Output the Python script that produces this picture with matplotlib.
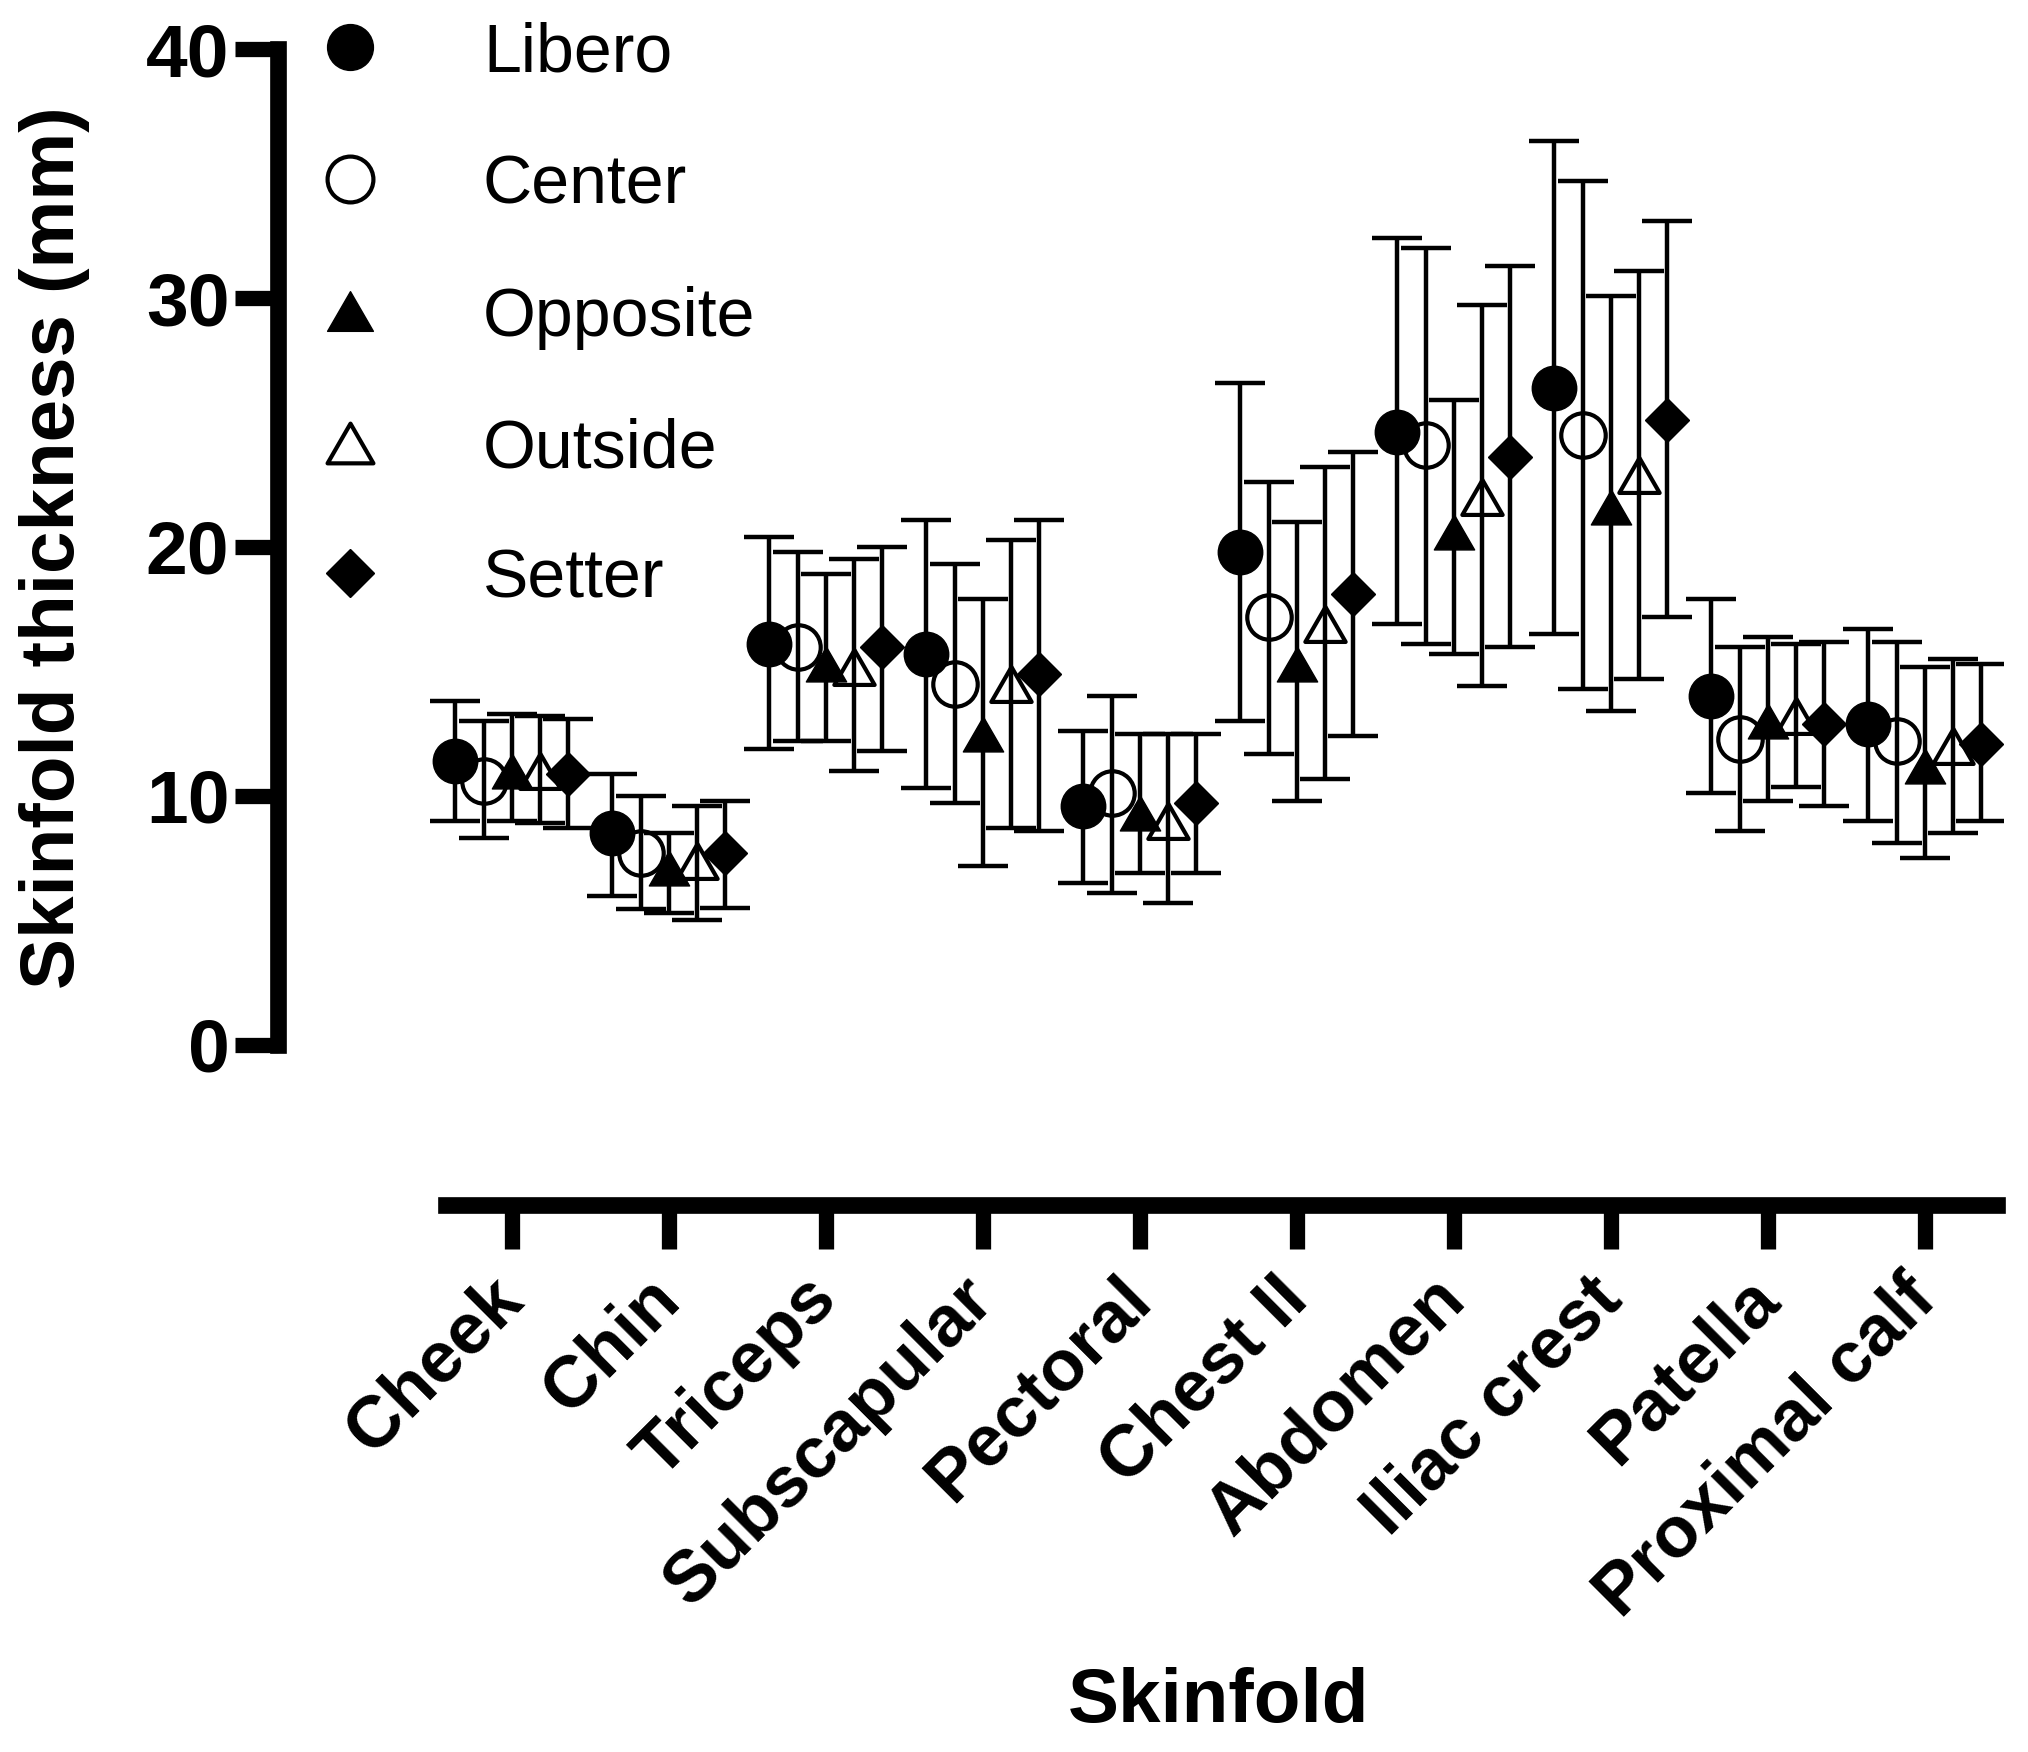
import matplotlib
matplotlib.use("Agg")
import numpy as np
import matplotlib.pyplot as plt
from matplotlib.path import Path

plt.rcParams['font.family'] = ['Liberation Sans', 'DejaVu Sans']

# Skinfold sites (x categories)
sites = ['Cheek', 'Chin', 'Triceps', 'Subscapular', 'Pectoral',
         'Chest II', 'Abdomen', 'Iliac crest', 'Patella', 'Proximal calf']

# mean and error-bar ends (mm) per playing position
libero_mean = [11.4, 8.5, 16.1, 15.7, 9.6, 19.8, 24.6, 26.4, 14.0, 12.9]
libero_upper = [13.8, 10.9, 20.4, 21.1, 12.6, 26.6, 32.4, 36.3, 17.9, 16.7]
libero_lower = [9.0, 6.0, 11.9, 10.3, 6.5, 13.0, 16.9, 16.5, 10.1, 9.0]

center_mean = [10.6, 7.7, 16.0, 14.5, 10.1, 17.2, 24.1, 24.5, 12.3, 12.2]
center_upper = [13.0, 10.0, 19.8, 19.3, 14.0, 22.6, 32.0, 34.7, 16.0, 16.2]
center_lower = [8.3, 5.45, 12.2, 9.7, 6.1, 11.7, 16.1, 14.3, 8.6, 8.1]

opposite_mean = [11.0, 7.1, 15.3, 12.5, 9.3, 15.3, 20.6, 21.6, 13.0, 11.2]
opposite_upper = [13.3, 8.5, 18.9, 17.9, 12.5, 21.0, 25.9, 30.1, 16.4, 15.2]
opposite_lower = [9.0, 5.3, 12.2, 7.2, 6.9, 9.8, 15.7, 13.4, 9.8, 7.5]

outside_mean = [11.0, 7.4, 15.2, 14.5, 9.0, 16.9, 22.0, 22.9, 13.2, 12.0]
outside_upper = [13.2, 9.6, 19.5, 20.3, 12.5, 23.2, 29.7, 31.1, 16.1, 15.5]
outside_lower = [8.9, 5.0, 11.0, 8.7, 5.7, 10.7, 14.4, 14.7, 10.35, 8.5]

setter_mean = [10.9, 7.7, 16.0, 14.9, 9.7, 18.1, 23.6, 25.1, 12.9, 12.1]
setter_upper = [13.1, 9.8, 20.0, 21.1, 12.5, 23.8, 31.3, 33.1, 16.2, 15.3]
setter_lower = [8.7, 5.5, 11.8, 8.6, 6.9, 12.4, 16.0, 17.2, 9.6, 9.0]

positions = ['Libero', 'Center', 'Opposite', 'Outside', 'Setter']

# triangle with centred bounding box (equilateral-ish, like Prism)
tri = Path([(-1, -0.866), (1, -0.866), (0, 0.866), (-1, -0.866)],
           [Path.MOVETO, Path.LINETO, Path.LINETO, Path.CLOSEPOLY])

styles = [
    dict(marker='o', ms=32, mfc='black'),
    dict(marker='o', ms=32, mfc='none'),
    dict(marker=tri, ms=29, mfc='black'),
    dict(marker=tri, ms=29, mfc='none'),
    dict(marker='D', ms=22, mfc='black'),
]
series = [
    (libero_mean, libero_lower, libero_upper),
    (center_mean, center_lower, center_upper),
    (opposite_mean, opposite_lower, opposite_upper),
    (outside_mean, outside_lower, outside_upper),
    (setter_mean, setter_lower, setter_upper),
]
offsets = [-0.36, -0.18, 0.0, 0.18, 0.36]

fig = plt.figure(figsize=(20.28, 17.52), dpi=100)
ax = fig.add_axes([0.1371, 0.3122, 0.8508, 0.6598])

x = np.arange(len(sites))
for i, (m, lo, up) in enumerate(series):
    m = np.array(m)
    yerr = [m - np.array(lo), np.array(up) - m]
    st = styles[i]
    ax.errorbar(x + offsets[i], m, yerr=yerr, fmt='none', ecolor='black',
                elinewidth=3.2, capsize=18, capthick=3.2, zorder=2 + i)
    ax.plot(x + offsets[i], m, linestyle='none', marker=st['marker'],
            markersize=st['ms'], markerfacecolor=st['mfc'],
            markeredgecolor='black', markeredgewidth=3 if st['mfc'] == 'none' else 1,
            zorder=3 + i)

ax.set_xlim(-1.49, 9.5)
ax.set_ylim(-6.43, 40)

for s in ['top', 'right']:
    ax.spines[s].set_visible(False)
ax.spines['left'].set_bounds(0, 40)
ax.spines['bottom'].set_bounds(-0.42, 9.46)
for s in ['left', 'bottom']:
    ax.spines[s].set_linewidth(12)
    ax.spines[s].set_capstyle('projecting')

ax.set_yticks([0, 10, 20, 30, 40])
ax.set_yticklabels(['0', '10', '20', '30', '40'], fontsize=54, fontweight='bold')
ax.tick_params(axis='y', length=31, width=11, pad=4)

ax.set_xticks(x)
ax.set_xticklabels(sites, fontsize=52, fontweight='bold', rotation=45,
                   ha='right', va='center', rotation_mode='anchor')
ax.tick_params(axis='x', length=32, width=11, pad=28)

ax.set_ylabel('Skinfold thickness (mm)', fontsize=55, fontweight='bold')
ax.yaxis.set_label_coords(-0.109, 0.569)
ax.set_xlabel('Skinfold', fontsize=55, fontweight='bold')
ax.xaxis.set_label_coords(0.545, -0.40)

# legend drawn in figure pixels (top-left origin)
W, H = 2028, 1752
leg_rows = [47, 179, 311, 443, 573]
leg_sizes = [33, 33, 33, 33, 24]
for i, name in enumerate(positions):
    st = styles[i]
    yf = 1 - leg_rows[i] / H
    fig.add_artist(plt.Line2D([350 / W], [yf], linestyle='none', marker=st['marker'],
                              markersize=leg_sizes[i], markerfacecolor=st['mfc'],
                              markeredgecolor='black',
                              markeredgewidth=3 if st['mfc'] == 'none' else 1))
    fig.text(483 / W, 1 - (leg_rows[i] + 25) / H, name, fontsize=49,
             va='baseline', ha='left')

fig.savefig('out.png', dpi=100)
